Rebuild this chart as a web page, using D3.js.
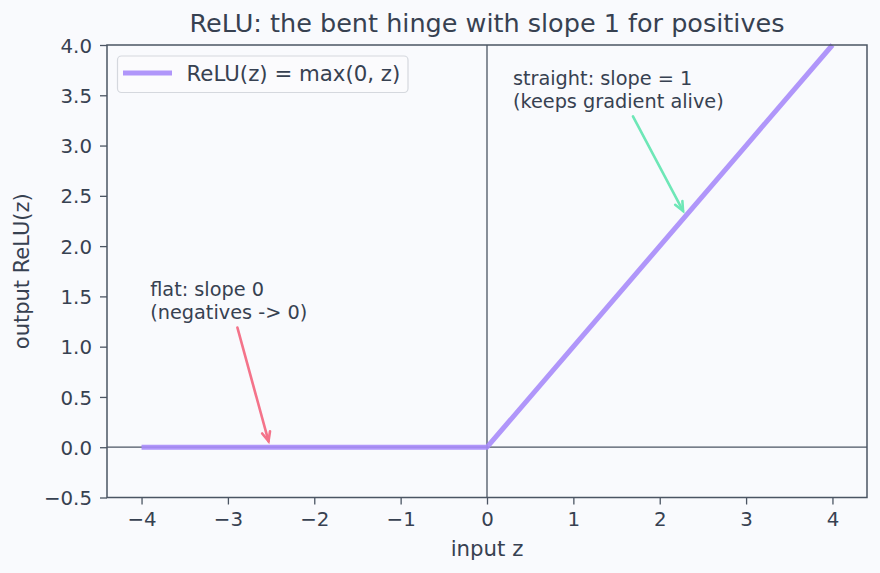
<!DOCTYPE html>
<html>
<head>
<meta charset="utf-8">
<script src="https://cdn.jsdelivr.net/npm/d3@7"></script>
<style>
  html, body { margin: 0; padding: 0; background: #f9fafd; }
  svg { display: block; font-family: "DejaVu Sans", sans-serif; }
</style>
</head>
<body>
<svg id="chart" width="880" height="573"></svg>
<script>
// ---- data ----
const zValues = [-4, -3, -2, -1, 0, 1, 2, 3, 4];
const reluValues = [0, 0, 0, 0, 0, 1, 2, 3, 4];
const xTicks = [-4, -3, -2, -1, 0, 1, 2, 3, 4];
const yTicks = [-0.5, 0, 0.5, 1.0, 1.5, 2.0, 2.5, 3.0, 3.5, 4.0];
const xDomain = [-4.4, 4.4];
const yDomain = [-0.5, 4.0];
const titleText = "ReLU: the bent hinge with slope 1 for positives";
const xLabel = "input z";
const yLabel = "output ReLU(z)";
const legendLabel = "ReLU(z) = max(0, z)";
const flatNote = ["flat: slope 0", "(negatives -> 0)"];
const flatNotePos = [-3.9, 1.5];
const flatArrow = [[-2.89, 1.19], [-2.53, 0.06]];
const straightNote = ["straight: slope = 1", "(keeps gradient alive)"];
const straightNotePos = [0.3, 3.6];
const straightArrow = [[1.69, 3.29], [2.27, 2.35]];

// ---- style ----
const bg = "#f9fafd", ink = "#374151", spine = "#4b5563";
const purple = "#a78bfa", green = "#6ee7b7", red = "#f4738a";

const svg = d3.select("#chart");
const L = 107, R = 867, T = 45, B = 497.5;
const x = d3.scaleLinear().domain(xDomain).range([L, R]);
const y = d3.scaleLinear().domain(yDomain).range([B, T]);

svg.append("rect").attr("width", 880).attr("height", 573).attr("fill", bg);

// title
svg.append("text").attr("x", (L + R) / 2).attr("y", 32)
  .attr("text-anchor", "middle").attr("font-size", 25.5).attr("fill", ink)
  .text(titleText);

// zero lines
svg.append("line").attr("x1", L).attr("x2", R).attr("y1", y(0)).attr("y2", y(0))
  .attr("stroke", spine).attr("stroke-width", 1.3);
svg.append("line").attr("x1", x(0)).attr("x2", x(0)).attr("y1", T).attr("y2", B)
  .attr("stroke", spine).attr("stroke-width", 1.3);

// relu line
const pts = zValues.map((z, i) => [z, reluValues[i]]);
svg.append("path").datum(pts)
  .attr("d", d3.line().x(d => x(d[0])).y(d => y(d[1])))
  .attr("fill", "none").attr("stroke", purple).attr("stroke-width", 5)
  .attr("stroke-opacity", 0.9).attr("stroke-linejoin", "round");

// axes
const xAxis = d3.axisBottom(x).tickValues(xTicks).tickSize(7).tickPadding(7)
  .tickFormat(d => d3.format("d")(d).replace("-", "\u2212"));
const gx = svg.append("g").attr("transform", `translate(0,${B})`).call(xAxis);
const yAxis = d3.axisLeft(y).tickValues(yTicks).tickSize(7).tickPadding(8)
  .tickFormat(d => d3.format(".1f")(d).replace("-", "\u2212"));
const gy = svg.append("g").attr("transform", `translate(${L},0)`).call(yAxis);
[gx, gy].forEach(g => {
  g.select(".domain").remove();
  g.selectAll(".tick line").attr("stroke", spine).attr("stroke-width", 1.3);
  g.selectAll(".tick text").attr("fill", ink).attr("font-size", 19.8)
    .attr("font-family", "DejaVu Sans, sans-serif");
});
gy.selectAll(".tick text").attr("dy", "0.36em");
gx.selectAll(".tick text").attr("dy", "0.74em");

// spines
svg.append("rect").attr("x", L).attr("y", T).attr("width", R - L).attr("height", B - T)
  .attr("fill", "none").attr("stroke", spine).attr("stroke-width", 1.5);

// axis labels
svg.append("text").attr("x", (L + R) / 2).attr("y", 556)
  .attr("text-anchor", "middle").attr("font-size", 21.3).attr("fill", ink).text(xLabel);
svg.append("text").attr("transform", `translate(29,${(T + B) / 2}) rotate(-90)`)
  .attr("text-anchor", "middle").attr("font-size", 21).attr("fill", ink).text(yLabel);

// annotations
function note(lines, pos, color, arrow) {
  const t = svg.append("text").attr("font-size", 19.3).attr("fill", ink);
  lines.forEach((s, i) => {
    t.append("tspan").attr("x", x(pos[0])).attr("y", y(pos[1]) + i * 22.5).text(s);
  });
  const [a, b] = arrow;
  const x1 = x(a[0]), y1 = y(a[1]), x2 = x(b[0]), y2 = y(b[1]);
  svg.append("line").attr("x1", x1).attr("y1", y1).attr("x2", x2).attr("y2", y2)
    .attr("stroke", color).attr("stroke-width", 2.6).attr("stroke-linecap", "round");
  const ang = Math.atan2(y2 - y1, x2 - x1), hl = 10, hw = 0.42;
  const p1 = [x2 - hl * Math.cos(ang - hw), y2 - hl * Math.sin(ang - hw)];
  const p2 = [x2 - hl * Math.cos(ang + hw), y2 - hl * Math.sin(ang + hw)];
  svg.append("path").attr("d", `M${p1}L${x2},${y2}L${p2}`)
    .attr("fill", "none").attr("stroke", color).attr("stroke-width", 2.6)
    .attr("stroke-linecap", "round").attr("stroke-linejoin", "miter");
}
note(flatNote, flatNotePos, red, flatArrow);
note(straightNote, straightNotePos, green, straightArrow);

// legend
const lg = svg.append("g");
lg.append("rect").attr("x", 117.5).attr("y", 56).attr("width", 290.5).attr("height", 36.5)
  .attr("rx", 4).attr("fill", "#fbfbfd").attr("stroke", "#d5d8de").attr("stroke-width", 1.2);
lg.append("line").attr("x1", 123).attr("x2", 172).attr("y1", 73).attr("y2", 73)
  .attr("stroke", purple).attr("stroke-width", 5).attr("stroke-opacity", 0.9);
lg.append("text").attr("x", 186.5).attr("y", 80.5).attr("font-size", 21.3).attr("fill", ink)
  .text(legendLabel);
</script>
</body>
</html>
